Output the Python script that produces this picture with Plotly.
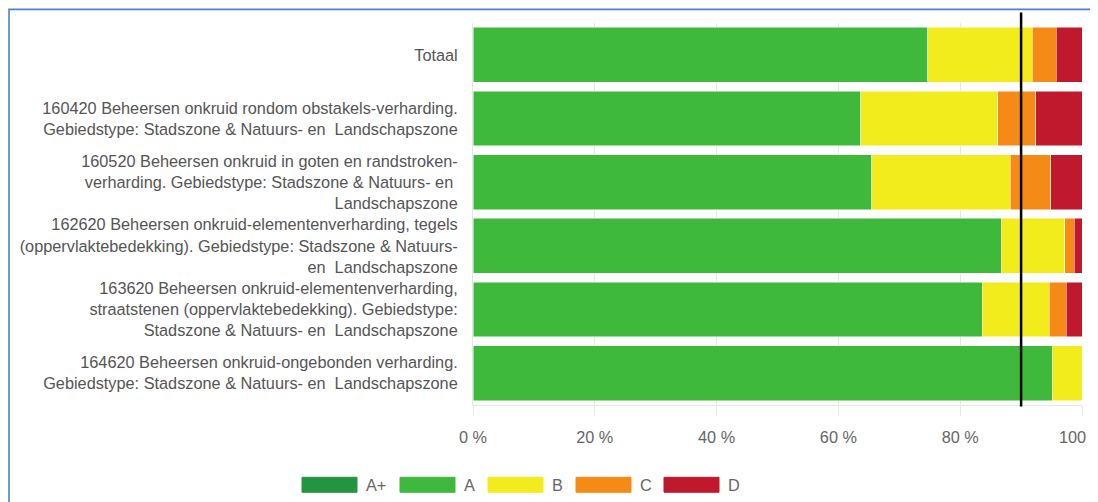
import plotly.graph_objects as go

categories = [
    "Totaal",
    "160420 Beheersen onkruid rondom obstakels-verharding.<br>Gebiedstype: Stadszone & Natuurs- en  Landschapszone",
    "160520 Beheersen onkruid in goten en randstroken-<br>verharding. Gebiedstype: Stadszone & Natuurs- en <br>Landschapszone",
    "162620 Beheersen onkruid-elementenverharding, tegels<br>(oppervlaktebedekking). Gebiedstype: Stadszone & Natuurs-<br>en  Landschapszone",
    "163620 Beheersen onkruid-elementenverharding,<br>straatstenen (oppervlaktebedekking). Gebiedstype:<br>Stadszone & Natuurs- en  Landschapszone",
    "164620 Beheersen onkruid-ongebonden verharding.<br>Gebiedstype: Stadszone & Natuurs- en  Landschapszone",
]
series_names = ["A+", "A", "B", "C", "D"]
vals_Aplus = [0, 0, 0, 0, 0, 0]
vals_A = [74.7, 63.7, 65.5, 86.7, 83.6, 95.1]
vals_B = [17.1, 22.5, 22.7, 10.5, 11.0, 4.9]
vals_C = [4.0, 6.2, 6.7, 1.5, 2.8, 0]
vals_D = [4.2, 7.6, 5.1, 1.3, 2.6, 0]
colors = ["#239540", "#3fb93c", "#f2ec1c", "#f68a17", "#c0192e"]
target = 90
x_ticks = [0, 20, 40, 60, 80, 100]
x_tick_labels = ["0 %", "20 %", "40 %", "60 %", "80 %", "100 %"]

all_vals = [vals_Aplus, vals_A, vals_B, vals_C, vals_D]

fig = go.Figure()
for name, vals, col in zip(series_names, all_vals, colors):
    fig.add_trace(go.Bar(
        y=categories, x=vals, name=name, orientation="h",
        marker=dict(color=col, line=dict(color="white", width=0.5)),
        showlegend=False,
    ))

# page has an 8px body margin; work in page pixels and convert
OFF = 8
W, H = 1098 - OFF, 502 - OFF
pl, pr, pt, pb = 473, 1082, 22.5, 405.5  # plot area in page pixels
L = pl - OFF
R = (W + OFF) - pr
T = pt - OFF
B = (H + OFF) - pb
pw = pr - pl
ph = pb - pt

def px_x(p):
    return (p - pl) / pw

def px_y(p):
    return (pb - p) / ph

FS = 16.3

shapes = []
shapes.append(dict(type="line", xref="x", yref="paper", x0=target, x1=target,
                   y0=px_y(407), y1=px_y(12), line=dict(color="black", width=2.5)))
shapes.append(dict(type="rect", xref="paper", yref="paper",
                   x0=px_x(OFF + 1), x1=px_x(1095), y0=px_y(530), y1=px_y(OFF + 0.8),
                   line=dict(color="#4f81c7", width=1.6), fillcolor="rgba(0,0,0,0)", layer="below"))

annotations = []
leg_x = [302, 400, 488, 576, 664]
for name, col, lx in zip(series_names, colors, leg_x):
    shapes.append(dict(type="rect", xref="paper", yref="paper",
                       x0=px_x(lx), x1=px_x(lx + 55), y0=px_y(493), y1=px_y(478),
                       fillcolor=col, line=dict(color=col, width=1)))
    annotations.append(dict(xref="paper", yref="paper", x=px_x(lx + 62), y=px_y(486),
                            text=name, showarrow=False, xanchor="left", yanchor="middle",
                            font=dict(size=FS, color="#666666")))

fig.update_layout(
    barmode="stack",
    bargap=0.14,
    width=W, height=H,
    margin=dict(l=L, r=R, t=T, b=B, autoexpand=False),
    paper_bgcolor="white", plot_bgcolor="white",
    font=dict(family="Liberation Sans, Arial, sans-serif", size=FS, color="#555555"),
    shapes=shapes,
    annotations=annotations,
    showlegend=False,
)
fig.update_xaxes(
    range=[0, 100], tickvals=x_ticks, ticktext=x_tick_labels,
    showgrid=True, gridcolor="#e6e6e6", gridwidth=1,
    ticks="outside", ticklen=10, tickcolor="#e6e6e6",
    showline=True, linecolor="#e6e6e6", linewidth=1,
    tickfont=dict(size=FS, color="#666666"), ticklabelstandoff=7,
    ticklabeloverflow="allow",
    zeroline=False, fixedrange=True,
)
fig.update_yaxes(
    autorange="reversed", showgrid=False, ticks="",
    showline=True, linecolor="#e6e6e6",
    tickfont=dict(size=FS, color="#555555"), ticklabelstandoff=11,
)

fig.write_html("out.html")
